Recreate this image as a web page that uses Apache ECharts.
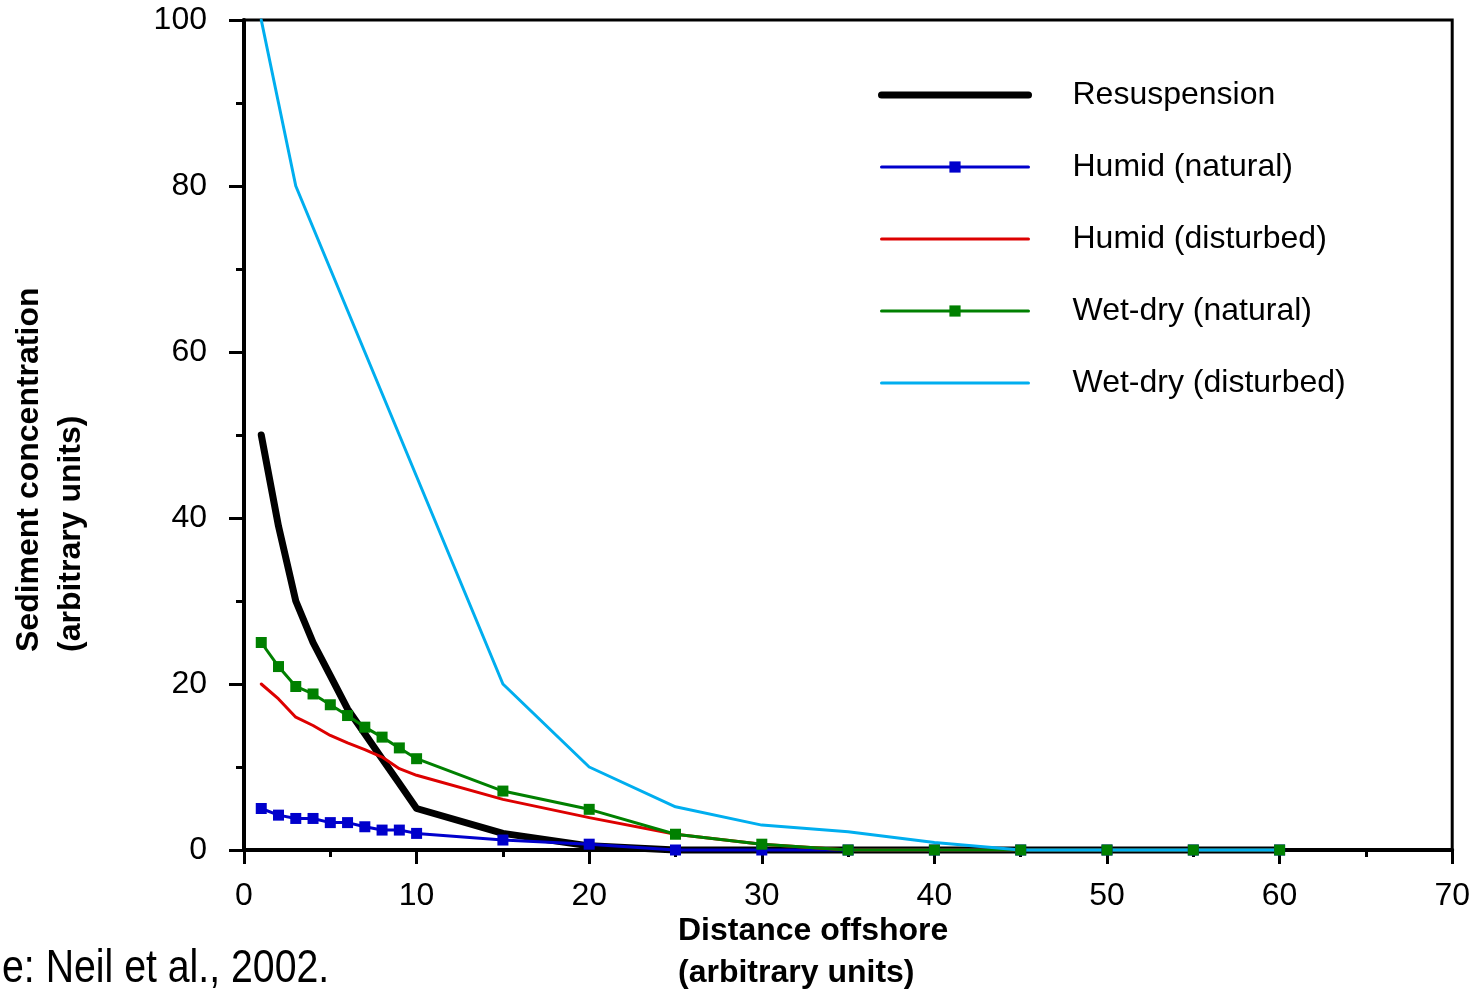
<!DOCTYPE html>
<html>
<head>
<meta charset="utf-8">
<script src="https://cdn.jsdelivr.net/npm/echarts@6/dist/echarts.min.js"></script>
<style>
html,body{margin:0;padding:0;background:#fff;}
#chart{width:1473px;height:991px;}
</style>
</head>
<body>
<div id="chart"></div>
<script>
// ---- data ----
const distance = [1, 2, 3, 4, 5, 6, 7, 8, 9, 10, 15, 20, 25, 30, 35, 40, 45, 50, 55, 60];
const resuspension    = [50, 39, 30, 25, 21, 17, 14, 11, 8, 5, 2, 0.5, 0, 0, 0, 0, 0, 0, 0, 0];
const humidNatural    = [5, 4.2, 3.8, 3.8, 3.3, 3.3, 2.8, 2.4, 2.4, 2, 1.2, 0.7, 0, 0, 0, 0, 0, 0, 0, 0];
const humidDisturbed  = [20, 18.2, 16, 15, 13.8, 12.9, 12.1, 11.2, 9.8, 9, 6.1, 3.9, 1.9, 0.7, 0, 0, 0, 0, 0, 0];
const wetDryNatural   = [25, 22.1, 19.7, 18.8, 17.5, 16.2, 14.8, 13.6, 12.3, 11, 7.1, 4.9, 1.9, 0.7, 0, 0, 0, 0, 0, 0];
const wetDryDisturbed = [100, 90, 80, 75, 70, 65, 60, 55, 50, 45, 20, 10, 5.2, 3, 2.2, 0.9, 0, 0, 0, 0];
const seriesNames = ['Resuspension', 'Humid (natural)', 'Humid (disturbed)', 'Wet-dry (natural)', 'Wet-dry (disturbed)'];
const hasMarkers = [false, true, false, true, false];
const xTitle = 'Distance offshore\n(arbitrary units)';
const yTitle = 'Sediment concentration\n(arbitrary units)';
const sourceNote = 'e: Neil et al., 2002.';

const pair = (ys) => distance.map((x, i) => [x, ys[i]]);
const FONT = "'Liberation Sans', Arial, sans-serif";

const chart = echarts.init(document.getElementById('chart'), null, {renderer: 'canvas'});

function lineSeries(name, ys, color, width, symbol) {
  return {
    name: name,
    type: 'line',
    data: pair(ys),
    symbol: symbol ? 'rect' : 'none',
    symbolSize: 11,
    showSymbol: !!symbol,
    lineStyle: {color: color, width: width, cap: 'round', join: 'round'},
    itemStyle: {color: color},
    emphasis: {disabled: true},
    animation: false,
    clip: false
  };
}

const legendData = seriesNames.map((n, i) => hasMarkers[i]
  ? {name: n}
  : {name: n, itemStyle: {color: 'transparent', borderWidth: 0, opacity: 0}});

chart.setOption({
  backgroundColor: '#ffffff',
  animation: false,
  grid: {
    left: 244, right: 19, top: 20, bottom: 141,
    show: true, borderColor: '#000', borderWidth: 3, backgroundColor: 'transparent'
  },
  xAxis: {
    type: 'value', min: 0, max: 70, interval: 10,
    axisLine: {show: true, onZero: false, lineStyle: {color: '#000', width: 4}},
    axisTick: {show: true, inside: false, length: 14, lineStyle: {color: '#000', width: 3}},
    minorTick: {show: true, splitNumber: 2, length: 7, lineStyle: {color: '#000', width: 3}},
    splitLine: {show: false},
    axisLabel: {color: '#000', fontSize: 32, fontFamily: FONT, margin: 30}
  },
  yAxis: {
    type: 'value', min: 0, max: 100, interval: 20,
    axisLine: {show: true, onZero: false, lineStyle: {color: '#000', width: 4}},
    axisTick: {show: true, inside: false, length: 15, lineStyle: {color: '#000', width: 3}},
    minorTick: {show: true, splitNumber: 2, length: 8, lineStyle: {color: '#000', width: 3}},
    splitLine: {show: false},
    axisLabel: {color: '#000', fontSize: 32, fontFamily: FONT, margin: 37}
  },
  legend: {
    orient: 'vertical',
    left: 873, top: 74,
    itemWidth: 147, itemHeight: 14, itemGap: 40,
    data: legendData,
    selectedMode: false,
    lineStyle: {width: 'inherit'},
    textStyle: {color: '#000', fontSize: 32, fontFamily: FONT, lineHeight: 32, padding: [0, 0, 0, 39]}
  },
  series: [
    lineSeries(seriesNames[0], resuspension, '#000000', 7, hasMarkers[0]),
    lineSeries(seriesNames[1], humidNatural, '#0000cc', 3, hasMarkers[1]),
    lineSeries(seriesNames[2], humidDisturbed, '#dd0000', 3, hasMarkers[2]),
    lineSeries(seriesNames[3], wetDryNatural, '#008000', 3, hasMarkers[3]),
    lineSeries(seriesNames[4], wetDryDisturbed, '#00aeef', 3, hasMarkers[4])
  ],
  graphic: [
    {
      type: 'text', x: 678, y: 910,
      style: {text: xTitle, fontSize: 32, fontWeight: 'bold', fontFamily: FONT, fill: '#000',
              align: 'left', verticalAlign: 'top', lineHeight: 42}
    },
    {
      type: 'text', x: 8, y: 652, rotation: Math.PI / 2,
      style: {text: yTitle, fontSize: 32, fontWeight: 'bold', fontFamily: FONT, fill: '#000',
              align: 'left', verticalAlign: 'top', lineHeight: 42}
    },
    {
      type: 'text', x: 2, y: 946, scaleX: 0.835,
      style: {text: sourceNote, fontSize: 47, fontFamily: FONT, fill: '#000',
              align: 'left', verticalAlign: 'top'}
    }
  ]
});
</script>
</body>
</html>
